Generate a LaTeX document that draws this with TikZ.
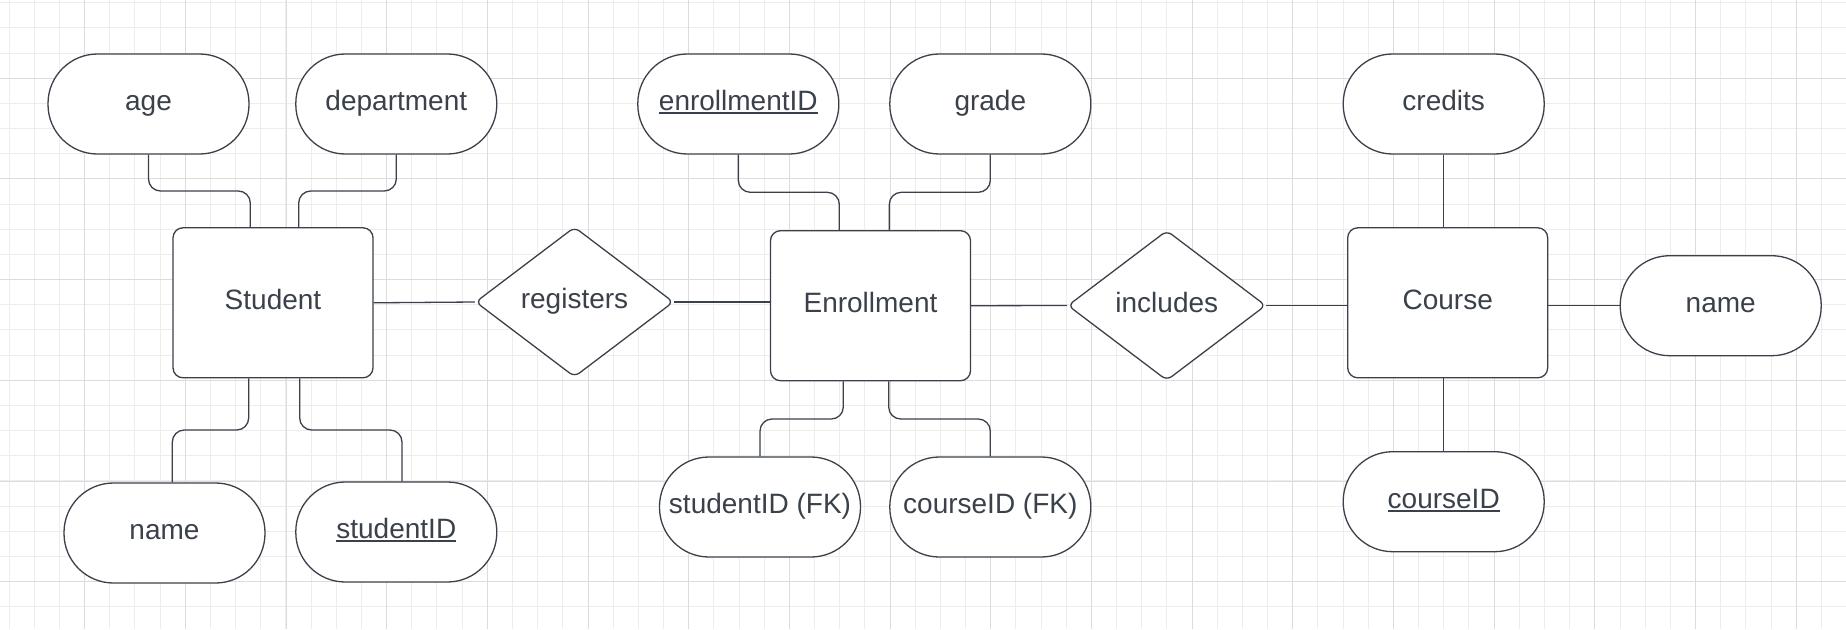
\documentclass[tikz,border=0pt]{standalone}
\usepackage{fontspec}
\setmainfont{Liberation Sans}
\usetikzlibrary{shapes.geometric}
\definecolor{ink}{HTML}{3A414A}
\definecolor{gridminor}{HTML}{EDEDED}
\definecolor{gridmajor}{HTML}{DCDCDC}
% underlined key attribute
\newcommand\keyattr[1]{\setbox0=\hbox{#1}\rlap{\rule[-3.3pt]{\wd0}{1.6pt}}\box0}

\begin{document}
\begin{tikzpicture}[x=1pt,y=-1pt,
  font=\fontsize{28}{34}\selectfont, text=ink,
  shapebase/.style={draw=ink, line width=1.3pt, fill=white, inner sep=0pt,
    text height=20pt, text depth=7pt},
  attr/.style={shapebase, rectangle, rounded corners=49.5pt,
    minimum width=201pt, minimum height=100pt},
  entity/.style={shapebase, rectangle, rounded corners=10pt,
    minimum width=200pt, minimum height=150pt},
  rel/.style={shapebase, diamond, rounded corners=6pt,
    minimum width=198pt, minimum height=150pt},
  conn/.style={draw=ink, line width=1.3pt, rounded corners=12pt}
]
% canvas
\fill[white] (0,0) rectangle (1846,629);
\useasboundingbox (0,0) rectangle (1846,629);

% background grid
\foreach \i in {0,...,72}
  \draw[gridminor, line width=1pt] ({9.1+25.17*\i},0) -- ++(0,629);
\foreach \j in {0,...,24}
  \draw[gridminor, line width=1pt] (0,{2.7+25.17*\j}) -- ++(1846,0);
\foreach \i in {0,...,17}
  \draw[gridmajor, line width=1pt] ({84.7+100.68*\i},0) -- ++(0,629);
\foreach \j in {0,...,5}
  \draw[gridmajor, line width=1pt] (0,{78.3+100.68*\j}) -- ++(1846,0);

% Student
\node[attr]   (age)       at (148.5,104)   {age};
\node[attr]   (dept)      at (396.3,104)   {department};
\node[entity] (student)   at (273,302.8)   {Student};
\node[attr]   (sname)     at (164.5,533)   {name};
\node[attr]   (sid)       at (396.3,532)   {\keyattr{studentID}};

% registers
\node[rel]    (registers) at (574.5,302)   {registers};

% Enrollment
\node[entity] (enroll)    at (870.5,305.7) {Enrollment};
\node[attr]   (eid)       at (738.3,104)   {\keyattr{enrollmentID}};
\node[attr]   (grade)     at (990.3,104)   {grade};
\node[attr]   (sfk)       at (760,507)     {studentID (FK)};
\node[attr]   (cfk)       at (990.3,507)   {courseID (FK)};

% includes
\node[rel]    (includes)  at (1166.8,305.5) {includes};

% Course
\node[entity] (course)    at (1447.7,302.8) {Course};
\node[attr]   (credits)   at (1443.7,104)   {credits};
\node[attr]   (cname)     at (1720.7,305.7) {name};
\node[attr]   (cid)       at (1443.7,501.7) {\keyattr{courseID}};

% attachment points on the entities
\coordinate (st1) at ([xshift=-22.7pt]student.north);
\coordinate (st2) at ([xshift=25.7pt]student.north);
\coordinate (sb1) at ([xshift=-24.3pt]student.south);
\coordinate (sb2) at ([xshift=26.7pt]student.south);
\coordinate (na1) at ([xshift=7.8pt]sname.north);
\coordinate (na2) at ([xshift=5.7pt]sid.north);
\coordinate (et1) at ([xshift=-31.2pt]enroll.north);
\coordinate (et2) at ([xshift=18.8pt]enroll.north);
\coordinate (eb1) at ([xshift=-27.2pt]enroll.south);
\coordinate (eb2) at ([xshift=18.2pt]enroll.south);

% attribute connectors
\draw[conn] (age.south)  |- (st1 |- 0,191) -- (st1);
\draw[conn] (dept.south) |- (st2 |- 0,191) -- (st2);
\draw[conn] (sb1) |- (na1 |- 0,430) -- (na1);
\draw[conn] (sb2) |- (na2 |- 0,430) -- (na2);
\draw[conn] (eid.south)   |- (et1 |- 0,192.3) -- (et1);
\draw[conn] (grade.south) |- (et2 |- 0,192.3) -- (et2);
\draw[conn] (eb1) |- (sfk.north |- 0,419) -- (sfk.north);
\draw[conn] (eb2) |- (cfk.north |- 0,419) -- (cfk.north);
\draw[conn] (credits.south) -- (credits.south |- course.north);
\draw[conn] (cid.north) -- (cid.north |- course.south);
\draw[conn] (cname.west -| course.east) -- (cname.west);

% relationship connectors
\draw[conn] (student.east) -- (registers.west);
\draw[conn] (registers.east) -- (registers.east -| enroll.west);
\draw[conn] (enroll.east) -- (includes.west);
\draw[conn] (includes.east) -- (includes.east -| course.west);
\end{tikzpicture}
\end{document}
